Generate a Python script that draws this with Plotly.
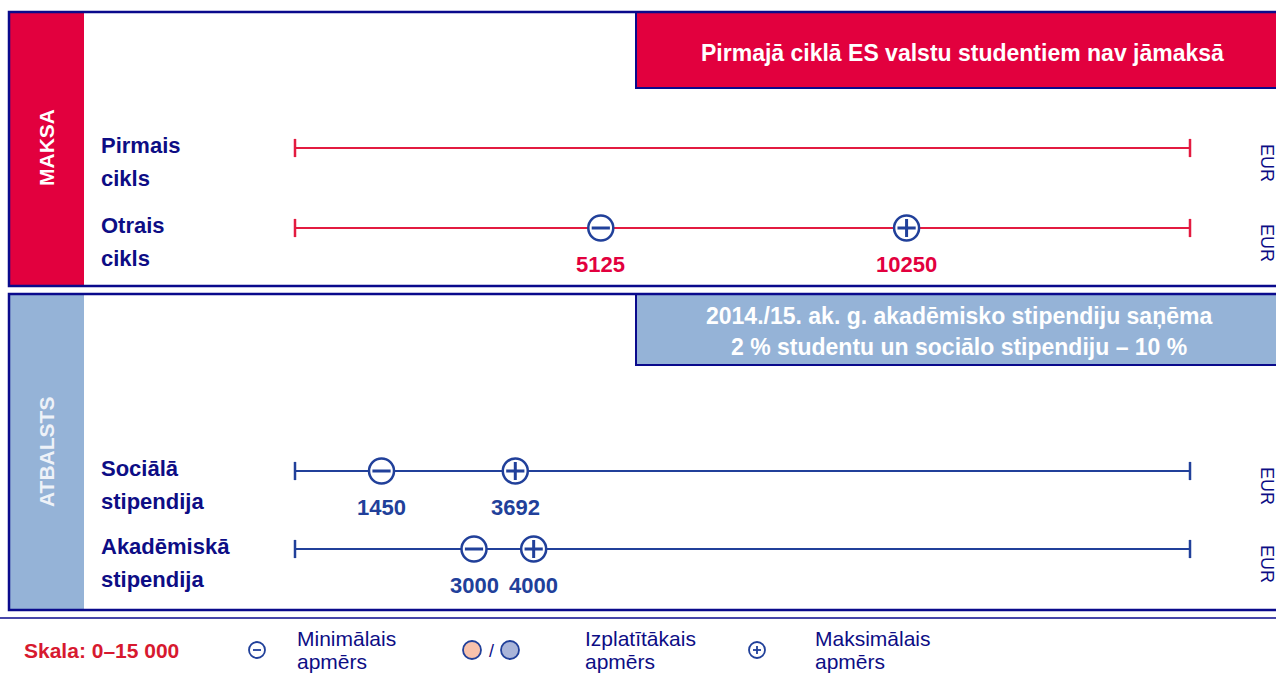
import plotly.graph_objects as go

# --- data -----------------------------------------------------------------
ROW_LABELS = [
    ("Pirmais", "cikls"),
    ("Otrais", "cikls"),
    ("Sociālā", "stipendija"),
    ("Akadēmiskā", "stipendija"),
]
ROW_GROUP = ["fee", "fee", "support", "support"]
MIN_VALUES = [None, 5125, 1450, 3000]
MAX_VALUES = [None, 10250, 3692, 4000]
SCALE_MIN, SCALE_MAX = 0, 15000
UNIT = "EUR"

FEE_NOTE = "Pirmajā ciklā ES valstu studentiem nav jāmaksā"
SUPPORT_NOTE = ["2014./15. ak. g. akadēmisko stipendiju saņēma",
                "2 % studentu un sociālo stipendiju – 10 %"]
SIDE_LABELS = ["MAKSA", "ATBALSTS"]
SCALE_LABEL = "Skala: 0–15 000"
LEGEND_TEXT = [("Minimālais", "apmērs"), ("Izplatītākais", "apmērs"), ("Maksimālais", "apmērs")]

# --- layout constants (pixels) ---------------------------------------------
W, H = 1276, 673
X0_PX, X1_PX = 295, 1190          # pixel positions of 0 and 15 000
ROW_Y = [148, 228, 471, 549]

NAVY = "#0a0a8c"
RED = "#e2003e"
RED_LINE = "#e31b40"
LIGHT_BLUE = "#95b3d7"
BLUE = "#21409a"
LABEL_BLUE = "#0d0d85"
SANS = "Liberation Sans, Arial, sans-serif"

span = SCALE_MAX - SCALE_MIN
x_lo = SCALE_MIN - X0_PX / (X1_PX - X0_PX) * span
x_hi = SCALE_MIN + (W - X0_PX) / (X1_PX - X0_PX) * span


def p(x):
    return x / W


fig = go.Figure()

# scale lines with end caps
for i, y in enumerate(ROW_Y):
    col = RED_LINE if ROW_GROUP[i] == "fee" else BLUE
    fig.add_trace(go.Scatter(
        x=[SCALE_MIN, SCALE_MAX], y=[y, y], mode="lines+markers",
        line=dict(color=col, width=2),
        marker=dict(symbol="line-ns", size=13, line=dict(color=col, width=2.5)),
        cliponaxis=False, hoverinfo="skip", showlegend=False,
    ))

# min / max markers
for values, inner in [(MIN_VALUES, "line-ew"), (MAX_VALUES, "cross-thin")]:
    xs = [v for v in values if v is not None]
    ys = [ROW_Y[i] for i, v in enumerate(values) if v is not None]
    fig.add_trace(go.Scatter(
        x=xs, y=ys, mode="markers",
        marker=dict(symbol="circle", size=25, color="white",
                    line=dict(color=BLUE, width=2.5)),
        cliponaxis=False, hoverinfo="skip", showlegend=False,
    ))
    fig.add_trace(go.Scatter(
        x=xs, y=ys, mode="markers",
        marker=dict(symbol=inner, size=13, line=dict(color=BLUE, width=3)),
        cliponaxis=False, hoverinfo="skip", showlegend=False,
    ))

annotations = []

# value labels under markers
for values in (MIN_VALUES, MAX_VALUES):
    for i, v in enumerate(values):
        if v is None:
            continue
        col = RED if ROW_GROUP[i] == "fee" else BLUE
        annotations.append(dict(
            x=v, y=ROW_Y[i], xref="x", yref="y", yshift=-36, xanchor="center",
            text=f"<b>{v}</b>", showarrow=False,
            font=dict(family=SANS, size=22, color=col),
        ))

# row labels and unit
for i, (l1, l2) in enumerate(ROW_LABELS):
    y = ROW_Y[i]
    for txt, dy in [(l1, -3), (l2, 30)]:
        annotations.append(dict(
            x=p(99), y=y + dy, xref="paper", yref="y", xanchor="left",
            yanchor="middle", text=f"<b>{txt}</b>", showarrow=False,
            font=dict(family=SANS, size=22, color=LABEL_BLUE),
        ))
    annotations.append(dict(
        x=p(1267), y=y + 15, xref="paper", yref="y", textangle=90,
        xanchor="center", yanchor="middle",
        text=UNIT, showarrow=False,
        font=dict(family=SANS, size=18, color=LABEL_BLUE),
    ))

# side labels
for txt, yc, col in [(SIDE_LABELS[0], 148, "white"), (SIDE_LABELS[1], 452, "#eef2f8")]:
    annotations.append(dict(
        x=p(46), y=yc, xref="paper", yref="y", textangle=-90,
        xanchor="center", yanchor="middle",
        text=f"<b>{txt}</b>", showarrow=False,
        font=dict(family=SANS, size=21, color=col),
    ))

# notes in boxes
annotations.append(dict(
    x=p(962), y=53, xref="paper", yref="y", xanchor="center", yanchor="middle",
    text=f"<b>{FEE_NOTE}</b>",
    showarrow=False, font=dict(family=SANS, size=23, color="white"),
))
for txt, yc in zip(SUPPORT_NOTE, [316, 347]):
    annotations.append(dict(
        x=p(959), y=yc, xref="paper", yref="y", xanchor="center", yanchor="middle",
        text=f"<b>{txt}</b>",
        showarrow=False, font=dict(family=SANS, size=23, color="white"),
    ))

# bottom legend
annotations.append(dict(
    x=p(22), y=650, xref="paper", yref="y", xanchor="left", yanchor="middle",
    text=f"<b>{SCALE_LABEL}</b>", showarrow=False,
    font=dict(family=SANS, size=21, color="#d7192f"),
))
for (l1, l2), xl in zip(LEGEND_TEXT, [295, 583, 813]):
    for txt, yc in [(l1, 638), (l2, 661)]:
        annotations.append(dict(
            x=p(xl), y=yc, xref="paper", yref="y", xanchor="left", yanchor="middle",
            text=txt, showarrow=False,
            font=dict(family=SANS, size=21, color=LABEL_BLUE),
        ))
annotations.append(dict(
    x=p(491), y=651, xref="paper", yref="y", xanchor="center", yanchor="middle",
    text="/", showarrow=False,
    font=dict(family=SANS, size=18, color=LABEL_BLUE),
))

shapes = []
# panels
for y0, y1, fill in [(12, 286, RED), (294, 610, LIGHT_BLUE)]:
    shapes.append(dict(type="rect", xref="paper", yref="y", x0=p(9), x1=p(84),
                       y0=y0, y1=y1, fillcolor=fill, line=dict(width=0), layer="below"))
    shapes.append(dict(type="rect", xref="paper", yref="y", x0=p(9), x1=p(1300),
                       y0=y0, y1=y1, line=dict(color=NAVY, width=2.5)))
shapes.append(dict(type="rect", xref="paper", yref="y", x0=p(636), x1=p(1300),
                   y0=12, y1=88, fillcolor=RED, line=dict(color=NAVY, width=2), layer="below"))
shapes.append(dict(type="rect", xref="paper", yref="y", x0=p(636), x1=p(1300),
                   y0=294, y1=365, fillcolor=LIGHT_BLUE, line=dict(color=NAVY, width=2),
                   layer="below"))
shapes.append(dict(type="line", xref="paper", yref="y", x0=p(0), x1=p(1276),
                   y0=618, y1=618, line=dict(color=NAVY, width=1.5)))


def circle(xc, yc, r, fill, width=1.8):
    return dict(type="circle", xref="paper", yref="y", x0=p(xc - r), x1=p(xc + r),
                y0=yc - r, y1=yc + r, fillcolor=fill, line=dict(color=BLUE, width=width))


shapes.append(circle(257, 650, 8, "white"))
shapes.append(dict(type="line", xref="paper", yref="y", x0=p(253), x1=p(261),
                   y0=650, y1=650, line=dict(color=BLUE, width=1.8)))
shapes.append(circle(472, 650, 9, "#f8c2ac"))
shapes.append(circle(510, 650, 9, "#aab5d9"))
shapes.append(circle(757, 650, 8, "white"))
shapes.append(dict(type="line", xref="paper", yref="y", x0=p(753), x1=p(761),
                   y0=650, y1=650, line=dict(color=BLUE, width=1.8)))
shapes.append(dict(type="line", xref="paper", yref="y", x0=p(757), x1=p(757),
                   y0=646, y1=654, line=dict(color=BLUE, width=1.8)))

fig.update_layout(
    width=W, height=H,
    margin=dict(l=0, r=0, t=0, b=0),
    paper_bgcolor="white", plot_bgcolor="white",
    xaxis=dict(range=[x_lo, x_hi], domain=[0, 1], visible=False, fixedrange=True),
    yaxis=dict(range=[H, 0], domain=[0, 1], visible=False, fixedrange=True),
    shapes=shapes,
    annotations=annotations,
    showlegend=False,
)

fig.write_html("out.html", config={"displayModeBar": False},
               post_script="document.body.style.margin='0px';")
